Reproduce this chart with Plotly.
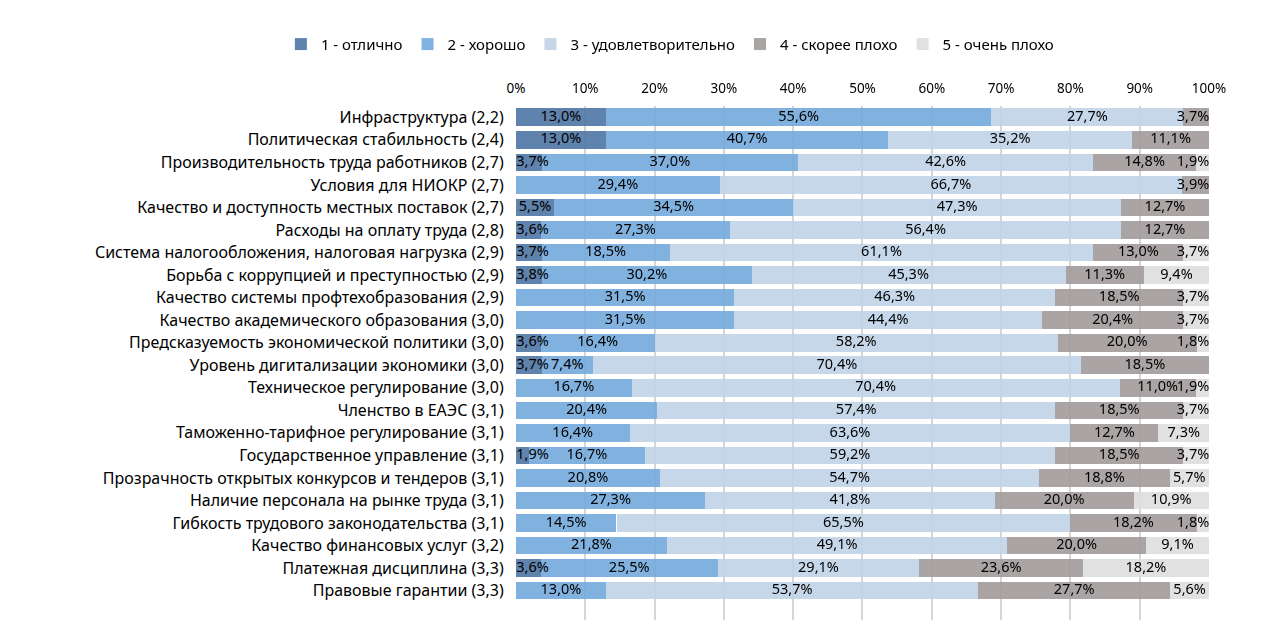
import plotly.graph_objects as go

categories = [
    "Инфраструктура (2,2)",
    "Политическая стабильность (2,4)",
    "Производительность труда работников (2,7)",
    "Условия для НИОКР (2,7)",
    "Качество и доступность местных поставок (2,7)",
    "Расходы на оплату труда (2,8)",
    "Система налогообложения, налоговая нагрузка (2,9)",
    "Борьба с коррупцией и преступностью (2,9)",
    "Качество системы профтехобразования (2,9)",
    "Качество академического образования (3,0)",
    "Предсказуемость экономической политики (3,0)",
    "Уровень дигитализации экономики (3,0)",
    "Техническое регулирование (3,0)",
    "Членство в ЕАЭС (3,1)",
    "Таможенно-тарифное регулирование (3,1)",
    "Государственное управление (3,1)",
    "Прозрачность открытых конкурсов и тендеров (3,1)",
    "Наличие персонала на рынке труда (3,1)",
    "Гибкость трудового законодательства (3,1)",
    "Качество финансовых услуг (3,2)",
    "Платежная дисциплина (3,3)",
    "Правовые гарантии (3,3)",
]

series_names = ["1 - отлично", "2 - хорошо", "3 - удовлетворительно", "4 - скорее плохо", "5 - очень плохо"]

s1 = [13.0, 13.0, 3.7, 0, 5.5, 3.6, 3.7, 3.8, 0, 0, 3.6, 3.7, 0, 0, 0, 1.9, 0, 0, 0, 0, 3.6, 0]
s2 = [55.6, 40.7, 37.0, 29.4, 34.5, 27.3, 18.5, 30.2, 31.5, 31.5, 16.4, 7.4, 16.7, 20.4, 16.4, 16.7, 20.8, 27.3, 14.5, 21.8, 25.5, 13.0]
s3 = [27.7, 35.2, 42.6, 66.7, 47.3, 56.4, 61.1, 45.3, 46.3, 44.4, 58.2, 70.4, 70.4, 57.4, 63.6, 59.2, 54.7, 41.8, 65.5, 49.1, 29.1, 53.7]
s4 = [3.7, 11.1, 14.8, 3.9, 12.7, 12.7, 13.0, 11.3, 18.5, 20.4, 20.0, 18.5, 11.0, 18.5, 12.7, 18.5, 18.8, 20.0, 18.2, 20.0, 23.6, 27.7]
s5 = [0, 0, 1.9, 0, 0, 0, 3.7, 9.4, 3.7, 3.7, 1.8, 0, 1.9, 3.7, 7.3, 3.7, 5.7, 10.9, 1.8, 9.1, 18.2, 5.6]

tick_vals = [0, 10, 20, 30, 40, 50, 60, 70, 80, 90, 100]
tick_text = ["0%", "10%", "20%", "30%", "40%", "50%", "60%", "70%", "80%", "90%", "100%"]

colors = ["#4f76a5", "#74aadc", "#c0d3e8", "#a19b9a", "#dedede"]

FONT = "Noto Sans"

def fmt(v):
    return "" if v == 0 else f"{v:.1f}".replace(".", ",") + "%"

all_series = [s1, s2, s3, s4, s5]

fig = go.Figure()
for name, vals, col in zip(series_names, all_series, colors):
    fig.add_trace(go.Bar(
        y=categories, x=vals, name=name, orientation="h",
        marker=dict(color=col, line=dict(width=0)), opacity=0.9,
        hoverinfo="skip",
    ))

# data labels on top of all bars, centred in each segment, kept inside the plot area
LAB_MIN, LAB_MAX = 2.4, 97.7
cum = [0.0] * len(categories)
for vals in all_series:
    mids = [min(max(c + v / 2, LAB_MIN), LAB_MAX) for c, v in zip(cum, vals)]
    fig.add_trace(go.Scatter(
        x=mids, y=categories, mode="text", text=[fmt(v) for v in vals],
        textposition="middle center", showlegend=False, hoverinfo="skip",
        textfont=dict(family=FONT, size=14.5, color="#000000"), cliponaxis=False,
    ))
    cum = [c + v for c, v in zip(cum, vals)]

fig.update_layout(
    barmode="stack", bargap=0.22,
    width=1288, height=637,
    margin=dict(l=10, r=10, t=98, b=25, autoexpand=False),
    paper_bgcolor="white", plot_bgcolor="white",
    font=dict(family=FONT, size=15, color="#000000"),
    legend=dict(orientation="h", x=0.5141, xanchor="center", y=1.12, yanchor="middle",
                font=dict(family=FONT, size=15), traceorder="normal",
                itemwidth=30),
    xaxis=dict(side="top", range=[0, 100], tickvals=tick_vals, ticktext=tick_text,
               domain=[0.3927, 0.9393], automargin=False,
               showgrid=True, gridcolor="#d6d6d6", gridwidth=1.5, zeroline=False,
               showline=False, ticks="outside", ticklen=7, tickcolor="rgba(0,0,0,0)",
               tickfont=dict(family=FONT, size=13.5)),
    yaxis=dict(categoryorder="array", categoryarray=categories, range=[22.3, -0.5],
               automargin=False,
               showgrid=False, ticks="outside", ticklen=8, tickcolor="rgba(0,0,0,0)",
               tickfont=dict(family=FONT, size=16)),
)

fig.write_html("out.html")
